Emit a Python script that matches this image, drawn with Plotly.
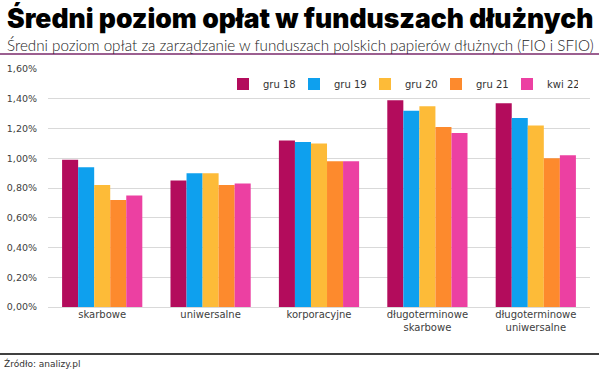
import plotly.graph_objects as go

categories = ["skarbowe", "uniwersalne", "korporacyjne", "długoterminowe<br>skarbowe", "długoterminowe<br>uniwersalne"]
series_names = ["gru 18", "gru 19", "gru 20", "gru 21", "kwi 22"]
gru18 = [0.99, 0.85, 1.12, 1.39, 1.37]
gru19 = [0.94, 0.90, 1.11, 1.32, 1.27]
gru20 = [0.82, 0.90, 1.10, 1.35, 1.22]
gru21 = [0.72, 0.82, 0.98, 1.21, 1.00]
kwi22 = [0.75, 0.83, 0.98, 1.17, 1.02]
colors = ["#B30C5C", "#0EA0EE", "#FDBB38", "#FD8A2D", "#EC40A2"]
y_ticks = [0, 0.2, 0.4, 0.6, 0.8, 1.0, 1.2, 1.4, 1.6]
y_tick_labels = ["0,00%", "0,20%", "0,40%", "0,60%", "0,80%", "1,00%", "1,20%", "1,40%", "1,60%"]

fig = go.Figure()
for name, vals, col in zip(series_names, [gru18, gru19, gru20, gru21, kwi22], colors):
    fig.add_trace(go.Bar(x=categories, y=vals, name=name, marker_color=col,
                         marker_line_width=0))

W, H = 599, 370
L, R, T, B = 48, 9, 69, 63
PW, PH = W - L - R, H - T - B


def px_x(x):
    return (x - L) / PW


def px_y(y):
    return (H - B - y) / PH


fig.update_layout(
    width=W, height=H,
    margin=dict(l=L, r=R, t=T, b=B, autoexpand=False),
    paper_bgcolor="white", plot_bgcolor="white",
    barmode="group", bargap=0.26, bargroupgap=0,
    font=dict(family="DejaVu Sans", size=10, color="#404040"),
    showlegend=True,
    legend=dict(orientation="h", x=px_x(223), xanchor="left", y=px_y(84), yanchor="middle",
                yref="paper", xref="paper",
                font=dict(family="DejaVu Sans", size=10, color="#333333"),
                entrywidth=26, entrywidthmode="pixels",
                bgcolor="rgba(0,0,0,0)", traceorder="normal"),
    xaxis=dict(showgrid=False, showline=False, ticks="", tickfont=dict(size=10, color="#404040"),
               fixedrange=True),
    yaxis=dict(range=[0, 1.6], tickvals=y_ticks, ticktext=y_tick_labels,
               showgrid=True, gridcolor="#D9D9D9", gridwidth=1,
               zeroline=True, zerolinecolor="#D9D9D9", zerolinewidth=1,
               showline=False, ticks="", ticklabelstandoff=10,
               tickfont=dict(family="DejaVu Sans", size=9.5, color="#404040")),
)

fig.add_annotation(text="Średni poziom opłat w funduszach dłużnych", xref="paper", yref="paper",
                   x=px_x(5), y=px_y(18), xanchor="left", yanchor="middle",
                   showarrow=False,
                   font=dict(family="Inter", size=26.5, color="#000000", weight=900))
fig.add_annotation(text="Średni poziom opłat za zarządzanie w funduszach polskich papierów dłużnych (FIO i SFIO)",
                   xref="paper", yref="paper",
                   x=px_x(5), y=px_y(45), xanchor="left", yanchor="middle",
                   showarrow=False,
                   font=dict(family="Lato", size=15.2, color="#222222", weight=300))
fig.add_annotation(text="Źródło: analizy.pl", xref="paper", yref="paper",
                   x=px_x(2), y=px_y(363), xanchor="left", yanchor="middle",
                   showarrow=False,
                   font=dict(family="DejaVu Sans", size=9, color="#333333"))

# purple rule below subtitle and black rule above footer
fig.add_shape(type="line", xref="paper", yref="paper",
              x0=px_x(0), x1=px_x(W), y0=px_y(54), y1=px_y(54),
              line=dict(color="#7A2A6B", width=1.5))
fig.add_shape(type="line", xref="paper", yref="paper",
              x0=px_x(0), x1=px_x(W), y0=px_y(354), y1=px_y(354),
              line=dict(color="#000000", width=1.5))

fig.write_html("out.html", config={"displayModeBar": False},
               post_script="document.body.style.margin='0';document.body.style.padding='0';"
                           "document.body.style.overflow='hidden';")
